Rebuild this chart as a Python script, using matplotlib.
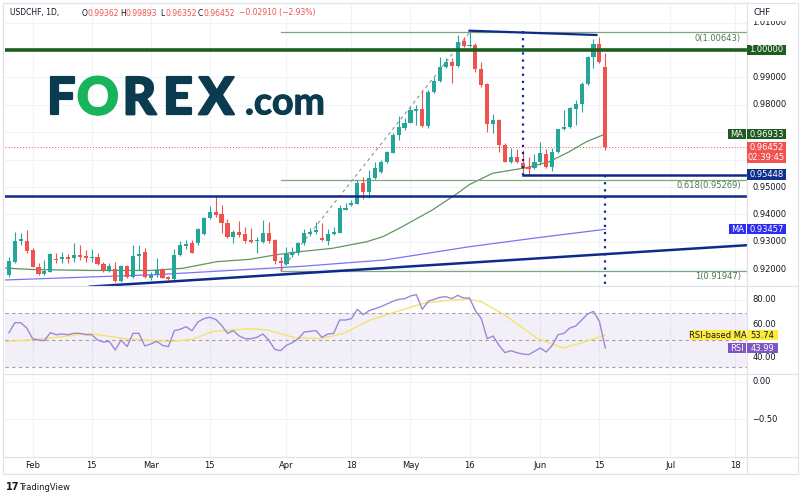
import numpy as np
import matplotlib
matplotlib.use("Agg")
import matplotlib.pyplot as plt
import matplotlib.patheffects as pe
from matplotlib.patches import Rectangle
from matplotlib.transforms import blended_transform_factory as blend

W, H = 800, 499
NARROW = ["Liberation Sans Narrow", "DejaVu Sans"]
TXT = "#131722"
GRID = "#f0f3fa"
BORDER = "#e0e3eb"
UP, DOWN = "#26a69a", "#ef5350"
NAVY = "#0e2a8c"

# --- daily candles, index 0 = 1 Feb 2022 (business days) ---
IDX = list(range(-4, 98))
OPEN = [.9179, .9227, .9304, .9304, .9270, .9209, .9181, .9191, .9237, .9236,
        .9243, .9240, .9251, .9247, .9241, .9245, .9219, .9197, .9200, .9158,
        .9212, .9170, .9248, .9264, .9167, .9182, .9200, .9170, .9163, .9252,
        .9285, .9295, .9295, .9329, .9386, .9410, .9402, .9370, .9319, .9337,
        .9327, .9307, .9302, .9300, .9333, .9307, .9230, .9219, .9252, .9258,
        .9295, .9329, .9334, .9313, .9304, .9329, .9333, .9416, .9434, .9438,
        .9514, .9483, .9532, .9556, .9590, .9625, .9689, .9717, .9735, .9779,
        .9784, .9723, .9848, .9888, .9939, .9957, .9942, 1.0033, 1.0016, 1.0018,
        .9931, .9875, .9729, .9745, .9653, .9592, .9611, .9587, .9574, .9568,
        .9592, .9620, .9574, .9627, .9711, .9720, .9785, .9803, .9875, .9973,
        1.0021, .99362]
HIGH = [.9246, .9337, .9331, .9343, .9276, .9224, .9234, .9260, .9260, .9264,
        .9256, .9297, .9288, .9270, .9273, .9260, .9227, .9222, .9227, .9215,
        .9215, .9288, .9288, .9276, .9191, .9240, .9203, .9175, .9273, .9304,
        .9307, .9307, .9349, .9392, .9431, .9462, .9434, .9382, .9343, .9376,
        .9355, .9349, .9319, .9380, .9373, .9309, .9246, .9280, .9282, .9300,
        .9346, .9349, .9373, .9368, .9346, .9353, .9434, .9441, .9453, .9526,
        .9538, .9562, .9592, .9599, .9633, .9696, .9759, .9751, .9793, .9799,
        .9854, .9854, .9903, .9973, .9970, .9970, 1.0055, 1.0049, 1.00643, 1.0025,
        .9957, .9879, .9765, .9748, .9660, .9643, .9639, .9635, .9611, .9619,
        .9663, .9639, .9643, .9712, .9781, .9793, .9818, .9882, .9979, 1.0040,
        1.0049, .99893]
LOW = [.9170, .9224, .9288, .9258, .9207, .9179, .9179, .9190, .9222, .9224,
       .9224, .9227, .9234, .9227, .9227, .9215, .9191, .9191, .9154, .9154,
       .9167, .9167, .9197, .9167, .9161, .9170, .9167, .9161, .9161, .9248,
       .9273, .9258, .9288, .9325, .9382, .9392, .9333, .9313, .9297, .9319,
       .9297, .9297, .9260, .9297, .9297, .9219, .91947, .9215, .9246, .9252,
       .9288, .9321, .9329, .9304, .9288, .9325, .9331, .9416, .9431, .9438,
       .9455, .9459, .9528, .9552, .9587, .9623, .9672, .9708, .9733, .9726,
       .9720, .9714, .9844, .9884, .9933, .9879, .9937, 1.0012, 1.0010, .9921,
       .9866, .9700, .9696, .9629, .9590, .9587, .9587, .9550, .95448, .9566,
       .9580, .9570, .9558, .9623, .9708, .9717, .9726, .9773, .9874, .9935,
       .9952, .96352]
CLOSE = [.9230, .9304, .9310, .9268, .9209, .9181, .9193, .9254, .9235, .9243,
         .9238, .9251, .9246, .9241, .9245, .9219, .9197, .9212, .9158, .9212,
         .9170, .9248, .9256, .9170, .9179, .9197, .9169, .9165, .9252, .9288,
         .9291, .9260, .9346, .9386, .9410, .9398, .9368, .9316, .9337, .9325,
         .9303, .9300, .9305, .9333, .9304, .9230, .9224, .9254, .9264, .9295,
         .9331, .9335, .9343, .9307, .9329, .9337, .9422, .9422, .9443, .9516,
         .9483, .9532, .9568, .9590, .9627, .9689, .9718, .9735, .9781, .9784,
         .9723, .9848, .9888, .9939, .9957, .9942, 1.0030, 1.0016, 1.0018, .9931,
         .9872, .9729, .9745, .9653, .9592, .9611, .9590, .9568, .9566, .9592,
         .9623, .9574, .9627, .9712, .9720, .9787, .9803, .9875, .9973, 1.0021,
         .9955, .96452]

# moving averages (index, value)
MA50_I = [-4.7, 0, 10, 20, 25.4, 31.2, 36.8, 41, 45.2, 50.8, 56.6, 59.3, 62.1,
          67.7, 71.8, 74, 77.9, 83.6, 87.5, 90.9, 93.8, 97]
MA50_V = [.92044, .91989, .91953, .91953, .92033, .92274, .92361, .92518, .92639,
          .92763, .93004, .93187, .93493, .94161, .94745, .95091, .95500, .95704,
          .95923, .96288, .96653, .96933]
MA200_I = [-4.7, 21.5, 45.2, 59.6, 74, 85.8, 97]
MA200_V = [.91606, .91807, .92099, .92336, .92821, .93157, .93456]

RSI = [55.5, 63, 63, 59, 51, 50, 49.5, 55.5, 54, 54.5, 54, 55, 55, 54, 54, 50,
       48.5, 49, 42.5, 50, 45, 55, 55, 45.5, 47, 49, 46, 45, 57, 58, 60, 57,
       63.5, 66, 67, 65.5, 61, 55, 57, 53, 51, 51, 52, 54.5, 50, 43, 42, 46,
       48, 51, 56, 56.5, 57, 52, 54.5, 55, 65, 65, 66, 73, 69, 72, 73.5, 75,
       77, 79, 80.5, 81, 83, 84, 73, 79, 80.5, 82, 82.5, 81, 83.5, 81.5, 81.5,
       72, 66, 51, 53, 46, 40.5, 42, 40.5, 39.5, 39, 41.5, 44, 41, 46, 54, 55,
       59, 60.5, 65, 69.5, 71.5, 64, 43.99]
RSIMA_I = [-4.7, 2.1, 9.5, 15.6, 23.2, 27, 30.7, 36.8, 39.8, 44.4, 48.8, 52.7,
           57.2, 62.5, 66.2, 69.9, 73.8, 76, 80, 85.5, 89.9, 93, 97]
RSIMA_V = [48.7, 51, 55, 51, 48.7, 50.5, 56.5, 58.5, 57.5, 51.7, 51, 55, 65,
           72.5, 77.5, 79.5, 80.7, 78.7, 68.7, 51, 44, 48, 53.74]

PRICE_TICKS = [0.92, 0.93, 0.94, 0.95, 0.98, 0.99]
TIME_POS = [0, 10, 20, 30, 43, 54, 64, 74, 86, 96, 108, 119]
TIME_LBL = ["Feb", "15", "Mar", "15", "Apr", "18", "May", "16", "Jun", "15", "Jul", "18"]

FIB = [(1.00643, "0(1.00643)"), (0.95269, "0.618(0.95269)"), (0.91947, "1(0.91947)")]
SUPPORT = 0.94672
NECK = 0.95448
LAST = 0.96452

# pixel geometry of the panes
X0, X1 = 5, 747
I_LEFT, I_RIGHT = -4.676, 121.0


def pane(y0, y1):
    ax = fig.add_axes([X0 / W, 1 - y1 / H, (X1 - X0) / W, (y1 - y0) / H])
    ax.set_xlim(I_LEFT, I_RIGHT)
    for s in ax.spines.values():
        s.set_visible(False)
    ax.set_xticks([]); ax.set_yticks([])
    for t in TIME_POS:
        ax.axvline(t, color=GRID, lw=0.8, zorder=0)
    return ax


def ypx(ax, v):
    return H - ax.transData.transform((0, v))[1]


def box(x0, x1, yc, h, fc, text, tc="white", fs=6):
    fig.add_artist(Rectangle((x0 / W, 1 - (yc + h / 2) / H), (x1 - x0) / W, h / H,
                             transform=fig.transFigure, fc=fc, ec="none", zorder=10))
    fig.text((x0 + x1) / 2 / W, 1 - yc / H, text, ha="center", va="center",
             color=tc, fontsize=fs, family=NARROW, zorder=11)


def axis_label(ax, v, text):
    fig.text(752.5 / W, 1 - ypx(ax, v) / H, text, ha="left", va="center",
             color=TXT, fontsize=6, family=NARROW, zorder=5)


fig = plt.figure(figsize=(W / 100, H / 100), dpi=100)
fig.patch.set_facecolor("white")

# ---------------- price pane ----------------
ax = pane(5, 286)
ax.set_ylim(0.913869, 1.016423)
for v in PRICE_TICKS + [0.96, 0.97, 1.00, 1.01]:
    ax.axhline(v, color=GRID, lw=0.8, zorder=0)

x = np.array(IDX)
o, h, l, c = map(np.array, (OPEN, HIGH, LOW, CLOSE))
col = np.where(c >= o, UP, DOWN)
ax.vlines(x, l, h, colors=col, lw=0.8, zorder=3)
ax.bar(x, np.maximum(np.abs(c - o), 0.0003), bottom=np.minimum(o, c), width=0.7,
       color=col, lw=0, zorder=4)

ax.plot(MA50_I, MA50_V, color="#5f965f", lw=0.9, zorder=2)
ax.plot(MA200_I, MA200_V, color="#7b74f2", lw=0.9, zorder=2)

# drawings
ax.axhline(1.0, color="#1b5e20", lw=2.6, zorder=5)
ax.axhline(SUPPORT, color=NAVY, lw=1.8, zorder=5)
ax.plot([9.7, 121.5], [0.91365, 0.92883], color=NAVY, lw=1.8, zorder=5)
ax.plot([74, 95.5], [1.00704, 1.00547], color=NAVY, lw=1.6, zorder=5)
ax.plot([83, I_RIGHT], [NECK, NECK], color=NAVY, lw=1.8, zorder=5)
ax.plot([83, 83], [1.0069, NECK], color=NAVY, lw=1.6, ls=(0, (1, 2.2)), zorder=5)
ax.plot([97, 97], [NECK, 0.9145], color=NAVY, lw=1.6, ls=(0, (1, 2.2)), zorder=5)
ax.plot([42, 74], [0.91947, 1.00643], color="#8a9a8a", lw=0.8, ls=(0, (3, 3)), zorder=2)
tr = blend(ax.transAxes, ax.transData)
for v, t in FIB:
    ax.plot([42, I_RIGHT], [v, v], color="#7fa57f", lw=0.9, zorder=2)
    ax.text((741 - X0) / (X1 - X0), v - 0.0006, t, transform=tr, ha="right", va="top",
            color="#4a7a4a", fontsize=6, family=NARROW)
ax.axhline(LAST, color=DOWN, lw=0.7, ls=(0, (1, 2)), zorder=1)

for v in PRICE_TICKS:
    axis_label(ax, v, f"{v:.5f}")
axis_label(ax, 1.01, "1.01000")
fig.add_artist(Rectangle((748 / W, 1 - 20.5 / H), 50 / W, 16 / H, transform=fig.transFigure,
                         fc="white", ec="none", zorder=9))
fig.text(753 / W, 1 - 12.5 / H, "CHF", ha="left", va="center", color=TXT, fontsize=6,
         family=NARROW, zorder=11)

box(747, 786, ypx(ax, 1.0), 9.5, "#1b5e20", "1.00000")
box(727.5, 746, ypx(ax, 0.96933), 10, "#1e5b20", "MA")
box(747, 786, ypx(ax, 0.96933), 10, "#1e5b20", "0.96933")
yl = ypx(ax, LAST)
fig.add_artist(Rectangle((747 / W, 1 - (yl + 15.5) / H), 39 / W, 20.6 / H,
                         transform=fig.transFigure, fc="#f05350", ec="none", zorder=10))
fig.text(766.5 / W, 1 - yl / H, "0.96452", ha="center", va="center", color="white",
         fontsize=6, family=NARROW, zorder=11)
fig.text(766.5 / W, 1 - (yl + 10) / H, "02:39:45", ha="center", va="center",
         color="white", fontsize=6, family=NARROW, zorder=11)
box(747, 786, ypx(ax, NECK), 10.5, "#10308f", "0.95448")
box(729, 746, ypx(ax, 0.93457), 10, "#2c2cf2", "MA")
box(747, 786, ypx(ax, 0.93457), 10, "#2c2cf2", "0.93457")

# ---------------- RSI pane ----------------
rx = pane(286, 374)
rx.set_ylim(24.5, 90.5)
rx.axhspan(30, 70, color="#7e57c2", alpha=0.09, lw=0, zorder=0)
for v in (30, 50, 70):
    rx.axhline(v, color="#a0a0a0", lw=0.8, ls=(0, (3, 3)), zorder=1)
for v in (40, 60, 80):
    rx.axhline(v, color=GRID, lw=0.8, zorder=0)
rx.plot(IDX, RSI, color="#9c88d4", lw=1.0, zorder=3)
rx.plot(RSIMA_I, RSIMA_V, color="#f7e26b", lw=1.0, zorder=2)
axis_label(rx, 80, "80.00")
axis_label(rx, 61.6, "60.00")
axis_label(rx, 37.0, "40.00")
box(690, 746, ypx(rx, 53.74), 10, "#ffeb3b", "RSI-based MA", tc=TXT)
box(747, 778, ypx(rx, 53.74), 10, "#ffeb3b", "53.74", tc=TXT)
box(727.5, 746, ypx(rx, 43.99), 10, "#7e57c2", "RSI")
box(747, 778, ypx(rx, 43.99), 10, "#7e57c2", "43.99")

# ---------------- empty pane ----------------
ex = pane(374, 457)
ex.set_ylim(-1.0, 0.102)
for v in (0.0, -0.5):
    ex.axhline(v, color=GRID, lw=0.8, zorder=0)
axis_label(ex, 0.0, "0.00")
axis_label(ex, -0.5, "\u22120.50")

# time axis labels
for t, s in zip(TIME_POS, TIME_LBL):
    xp = ex.transData.transform((t, 0))[0]
    fig.text(xp / W, 1 - 465.5 / H, s, ha="center", va="center", color=TXT,
             fontsize=6, family=NARROW)

# frame lines
for yy in (286, 374, 457):
    fig.add_artist(plt.Line2D([X0 / W, 798 / W], [1 - yy / H] * 2, color=BORDER, lw=0.9))
fig.add_artist(plt.Line2D([X1 / W] * 2, [1 - 3 / H, 1 - 474 / H], color=BORDER, lw=0.9))
fig.add_artist(Rectangle((3 / W, 1 - 474 / H), 795 / W, 471 / H, transform=fig.transFigure,
                         fill=False, ec=BORDER, lw=0.9))

# header
fig.text(10 / W, 1 - 13 / H, "USDCHF, 1D,", ha="left", va="center", color=TXT,
         fontsize=5.5, family=NARROW)
for xp, k, v in [(82, "O", "0.99362"), (120, "H", "0.99893"), (160, "L", "0.96352"),
                 (198, "C", "0.96452")]:
    fig.text(xp / W, 1 - 13 / H, k, ha="left", va="center", color=TXT, fontsize=5.5,
             family=NARROW)
    fig.text((xp + 6) / W, 1 - 13 / H, v, ha="left", va="center", color=DOWN,
             fontsize=5.5, family=NARROW)
fig.text(239 / W, 1 - 13 / H, "\u22120.02910 (\u22122.93%)", ha="left", va="center",
         color=DOWN, fontsize=5.5, family=NARROW)

# FOREX.com logo
LOGO = "#0b3b4e"
LOGO_FONT = ["Lato", "DejaVu Sans"]
for xp, s, cc in [(46.7, "F", LOGO), (77, "O", "#17b35d"), (122.7, "R", LOGO),
                  (163, "E", LOGO), (199, "X", LOGO)]:
    fig.text(xp / W, 1 - 114.3 / H, s, ha="left", va="baseline", color=cc,
             fontsize=37, family=LOGO_FONT, fontweight="black",
             path_effects=[pe.withStroke(linewidth=1.6, foreground=cc)])
fig.text(245 / W, 1 - 114.3 / H, ".com", ha="left", va="baseline", color=LOGO,
         fontsize=27, family=LOGO_FONT, fontweight="bold",
         path_effects=[pe.withStroke(linewidth=0.8, foreground=LOGO)])

# TradingView mark
fig.text(6 / W, 1 - 487 / H, "17", ha="left", va="center", color=TXT, fontsize=7,
         fontweight="bold")
fig.text(19 / W, 1 - 487 / H, "TradingView", ha="left", va="center", color=TXT,
         fontsize=6, family=NARROW)

fig.savefig("out.png", dpi=100)
